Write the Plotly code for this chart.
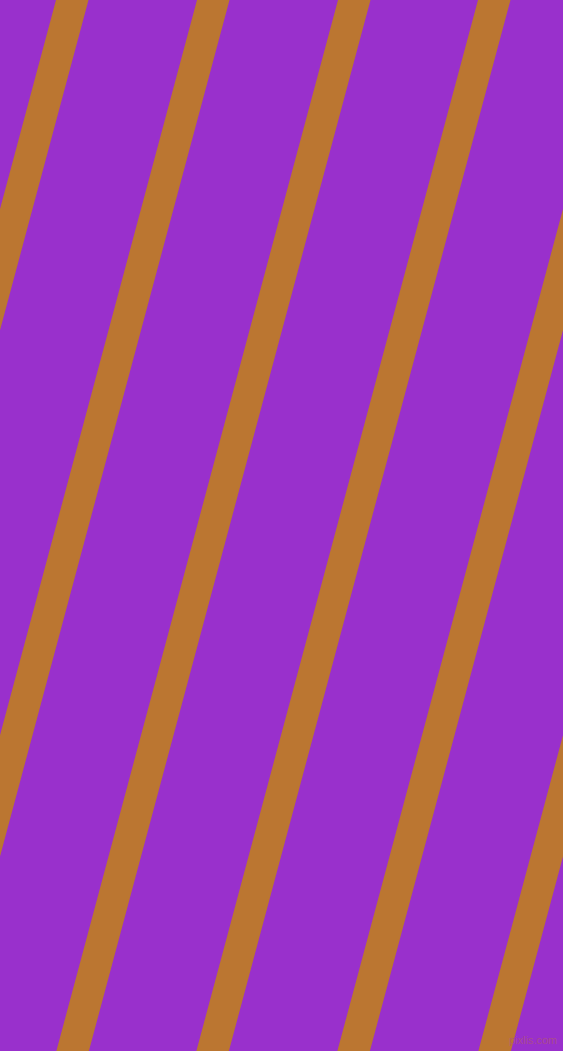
import math
import plotly.graph_objects as go

# Canvas size of the pattern
W, H = 563, 1051

# Stripe data: x position of each stripe's left edge along the top border
stripe_top_x = [56, 197, 338, 478, 619, 760]
stripe_width = 32.5          # horizontal width of a stripe
stripe_angle = 75            # degrees from horizontal

bg_color = '#9930CC'
stripe_color = '#BB7631'

shift = H / math.tan(math.radians(stripe_angle))  # horizontal drift top -> bottom

fig = go.Figure()

for x0 in stripe_top_x:
    xs = [x0, x0 + stripe_width, x0 + stripe_width - shift, x0 - shift, x0]
    ys = [0, 0, H, H, 0]
    fig.add_trace(go.Scatter(
        x=xs, y=ys, mode='lines', fill='toself',
        fillcolor=stripe_color, line=dict(width=0),
        hoverinfo='skip', showlegend=False
    ))

# Faint watermark in the bottom right corner
fig.add_annotation(
    text='pixlis.com', x=W - 4, y=H - 3, xref='x', yref='y',
    xanchor='right', yanchor='bottom', showarrow=False,
    font=dict(family='Liberation Sans Narrow, Liberation Sans', size=11,
              color='rgba(175,85,120,0.75)')
)

fig.update_layout(
    width=W, height=H,
    margin=dict(l=0, r=0, t=0, b=0),
    paper_bgcolor=bg_color, plot_bgcolor=bg_color,
    xaxis=dict(range=[0, W], visible=False, fixedrange=True),
    yaxis=dict(range=[H, 0], visible=False, fixedrange=True),
)

fig.write_html("out.html", config={'displayModeBar': False},
               post_script="document.body.style.margin='0';")
